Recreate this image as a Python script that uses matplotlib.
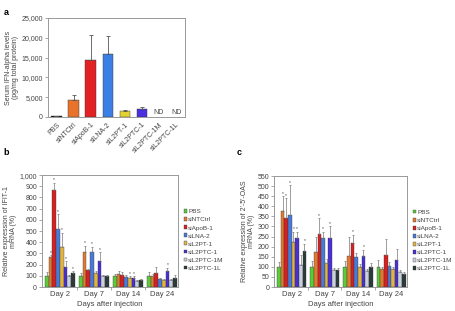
import numpy as np
import matplotlib
matplotlib.use('Agg')
import matplotlib.pyplot as plt

plt.rcParams['font.family'] = ['Liberation Sans', 'DejaVu Sans']
plt.rcParams['font.size'] = 5
TXT = '#444444'
SPN = '#999999'

groups = ['PBS', 'siNTCtrl', 'siApoB-1', 'siLNA-2', 'siL2PT-1', 'siL2PTC-1', 'siL2PTC-1M', 'siL2PTC-1L']
days = ['Day 2', 'Day 7', 'Day 14', 'Day 24']

# panel a: serum IFN-alpha (pg/mg), None = not detected
ifn_vals = [150, 4400, 14300, 16000, 1400, 1900, None, None]
ifn_err = [80, 1200, 6300, 4400, 300, 500, 0, 0]
colors_a = ['#111111', '#E8732C', '#E22222', '#3B7FE6', '#E2D232', '#4A2FE0', '#ffffff', '#ffffff']

# panel b: IFIT-1 (%), rows = days, cols = groups
ifit_vals = [[100, 265, 870, 520, 355, 180, 100, 125],
             [100, 310, 150, 310, 125, 230, 100, 100],
             [100, 120, 110, 90, 80, 80, 55, 65],
             [100, 95, 125, 75, 65, 140, 65, 80]]
ifit_err = [[30, 20, 60, 130, 130, 50, 10, 15],
            [25, 60, 10, 50, 15, 80, 10, 10],
            [15, 25, 20, 20, 15, 15, 5, 10],
            [35, 20, 50, 10, 10, 30, 10, 25]]
ifit_star = [[0, 1, 1, 1, 1, 1, 0, 1],
             [0, 1, 0, 1, 0, 1, 0, 0],
             [0, 0, 0, 0, 1, 1, 0, 0],
             [0, 0, 0, 0, 0, 1, 0, 0]]

# panel c: 2'-5'-OAS (%)
oas_vals = [[100, 375, 340, 355, 225, 245, 110, 180],
            [100, 175, 265, 245, 120, 245, 85, 85],
            [100, 155, 220, 150, 100, 155, 80, 100],
            [100, 90, 160, 105, 90, 135, 75, 65]]
oas_err = [[25, 75, 100, 150, 50, 30, 50, 35],
           [30, 75, 75, 30, 20, 55, 10, 10],
           [30, 95, 40, 20, 15, 30, 10, 20],
           [35, 10, 80, 20, 10, 55, 10, 10]]
oas_star = [[0, 1, 1, 1, 1, 1, 0, 1],
            [0, 0, 1, 1, 0, 1, 0, 0],
            [0, 0, 1, 0, 0, 1, 0, 0],
            [0, 0, 0, 0, 0, 0, 0, 0]]

colors_bc = ['#5CCB3A', '#E07A32', '#D42222', '#4A7AD6', '#E0B444', '#4A30D2', '#C9D1DB', '#2C3A3A']


def style_ax(ax):
    for s in ax.spines.values():
        s.set_color(SPN)
        s.set_linewidth(0.7)
    ax.tick_params(colors=SPN, labelcolor=TXT, labelsize=5, width=0.6, length=2, pad=1.5)


fig = plt.figure(figsize=(4.56, 3.11), dpi=100)

# ---- panel a
axa = fig.add_axes([0.105, 0.624, 0.300, 0.318])
style_ax(axa)
xa = np.arange(len(groups))
for i in range(len(groups)):
    if ifn_vals[i] is None:
        axa.text(xa[i], 300, 'ND', ha='center', va='bottom', fontsize=5, color=TXT)
        continue
    axa.bar(xa[i], ifn_vals[i], 0.6, color=colors_a[i], edgecolor='#333333', linewidth=0.3,
            yerr=[[0], [ifn_err[i]]], error_kw=dict(ecolor='#555555', elinewidth=0.6, capsize=1.2, capthick=0.6))
axa.set_xlim(-0.5, 7.5)
axa.set_ylim(0, 25000)
axa.set_yticks(range(0, 25001, 5000))
axa.set_yticklabels(['{:,}'.format(v) for v in range(0, 25001, 5000)])
axa.set_xticks(xa)
axa.set_xticklabels(groups, rotation=45, ha='right', rotation_mode='anchor')
axa.tick_params(axis='x', length=0, pad=3)
axa.set_ylabel('Serum IFN-alpha levels\n(pg/mg total protein)', fontsize=5, color=TXT, labelpad=2,
               linespacing=1.0)


def grouped(ax, vals, errs, stars, ymax, step):
    w = 0.11
    for j in range(len(groups)):
        xs = np.arange(len(days)) + (j - 3.5) * w
        v = [vals[d][j] for d in range(len(days))]
        e = [errs[d][j] for d in range(len(days))]
        ax.bar(xs, v, w, color=colors_bc[j], edgecolor='#333333', linewidth=0.25, label=groups[j],
               yerr=[np.zeros(len(e)), e], error_kw=dict(ecolor='#777777', elinewidth=0.5, capsize=0.8, capthick=0.5))
        for d in range(len(days)):
            if stars[d][j]:
                ax.text(xs[d], v[d] + e[d] + ymax * 0.005, '*', ha='center', va='bottom', fontsize=3.5, color=TXT)
    ax.set_xlim(-0.53, 3.47)
    ax.set_ylim(0, ymax)
    ax.set_yticks(np.arange(0, ymax + 1, step))
    ax.set_yticklabels(['{:,}'.format(int(t)) for t in np.arange(0, ymax + 1, step)])
    ax.set_xticks(np.arange(len(days)))
    ax.set_xticklabels(days, fontsize=5.5)
    ax.set_xticks([0.5, 1.5, 2.5], minor=True)
    ax.tick_params(axis='x', which='major', length=0, pad=3)
    ax.tick_params(axis='x', which='minor', length=2, color=SPN, width=0.6)
    ax.set_xlabel('Days after injection', fontsize=5.5, color=TXT, labelpad=2)
    leg = ax.legend(loc='center left', bbox_to_anchor=(1.025, 0.42), frameon=False, fontsize=4.6,
                    handlelength=0.55, handleheight=0.55, handletextpad=0.15, labelspacing=0.45, borderaxespad=0)
    for t in leg.get_texts():
        t.set_color(TXT)


# ---- panel b
axb = fig.add_axes([0.092, 0.077, 0.298, 0.360])
style_ax(axb)
grouped(axb, ifit_vals, ifit_err, ifit_star, 1000, 100)
axb.set_ylabel('Relative expression of IFIT-1\nmRNA (%)', fontsize=5, color=TXT, labelpad=2, linespacing=1.0)

# ---- panel c
axc = fig.add_axes([0.601, 0.077, 0.291, 0.357])
style_ax(axc)
grouped(axc, oas_vals, oas_err, oas_star, 550, 50)
axc.set_ylabel("Relative expression of 2'-5'-OAS\nmRNA (%)", fontsize=5, color=TXT, labelpad=2, linespacing=1.0)

fig.text(0.008, 0.975, 'a', fontsize=6.5, fontweight='bold', va='top')
fig.text(0.008, 0.525, 'b', fontsize=6.5, fontweight='bold', va='top')
fig.text(0.520, 0.525, 'c', fontsize=6.5, fontweight='bold', va='top')

fig.savefig('out.png', dpi=100)
